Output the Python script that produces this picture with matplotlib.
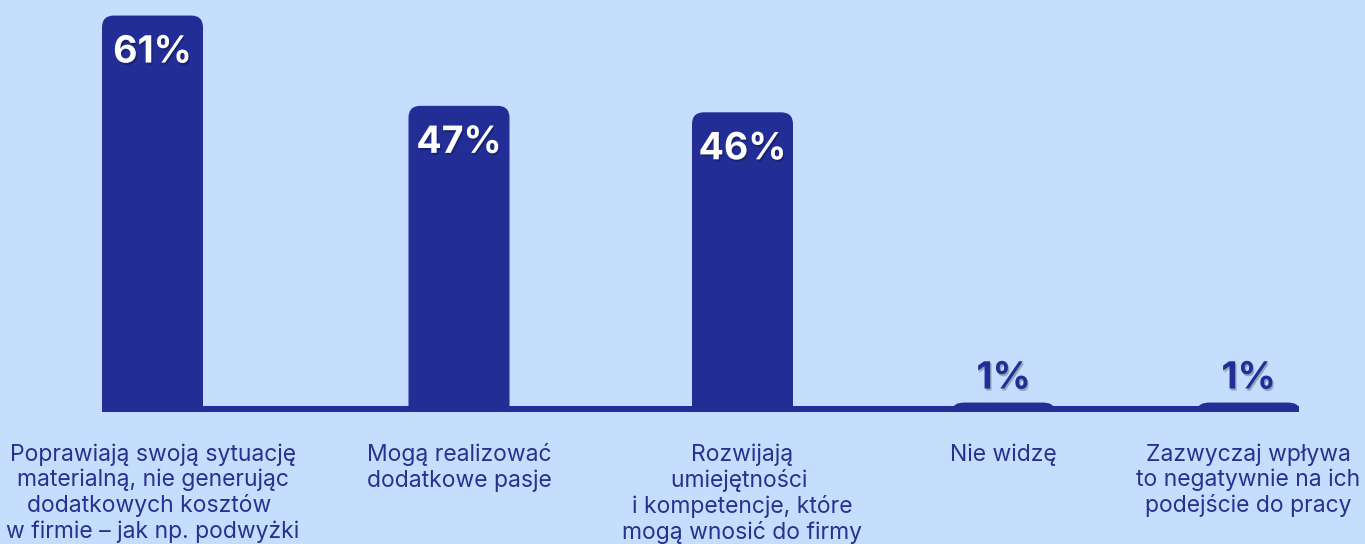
import matplotlib
matplotlib.use("Agg")
import matplotlib.pyplot as plt
from matplotlib.path import Path
from matplotlib.patches import PathPatch
import matplotlib.patheffects as pe

categories = [
    "Poprawiają swoją sytuację\nmaterialną, nie generując\ndodatkowych kosztów \nw firmie – jak np. podwyżki",
    "Mogą realizować\ndodatkowe pasje",
    "Rozwijają\numiejętności \ni kompetencje, które\nmogą wnosić do firmy",
    "Nie widzę",
    "Zazwyczaj wpływa\nto negatywnie na ich\npodejście do pracy",
]
values = [61, 47, 46, 1, 1]
value_labels = ["61%", "47%", "46%", "1%", "1%"]

# layout (pixel-based x positions)
positions = [152.5, 459, 742.5, 1003.5, 1248.5]
bar_width = 101

BG = "#C6DEFD"
BAR = "#222E96"
TXT = "#27318F"
PX_PER_UNIT = 6.45

plt.rcParams['font.family'] = ['Inter', 'DejaVu Sans']

fig = plt.figure(figsize=(13.65, 5.44), dpi=100)
fig.patch.set_facecolor(BG)
ax = fig.add_axes([0, 135 / 544, 1, 409 / 544])
ax.set_facecolor(BG)
ax.set_xlim(0, 1365)
ax.set_ylim(0, 409 / PX_PER_UNIT)
ax.axis('off')


def rounded_bar(x, w, h, r_px=12):
    rx = r_px
    ry = min(r_px / PX_PER_UNIT, h)
    l, rgt = x - w / 2, x + w / 2
    verts = [(l, 0), (l, h - ry), (l, h), (l + rx, h), (rgt - rx, h),
             (rgt, h), (rgt, h - ry), (rgt, 0), (l, 0)]
    codes = [Path.MOVETO, Path.LINETO, Path.CURVE3, Path.CURVE3, Path.LINETO,
             Path.CURVE3, Path.CURVE3, Path.LINETO, Path.CLOSEPOLY]
    return PathPatch(Path(verts, codes), facecolor=BAR, edgecolor='none',
                     clip_on=False, zorder=3)


shadow = [pe.withSimplePatchShadow(offset=(1, -1.5), shadow_rgbFace='black', alpha=0.25)]

for x, v, lab, cat in zip(positions, values, value_labels, categories):
    ax.add_patch(rounded_bar(x, bar_width, v))
    if v >= 10:
        ax.annotate(lab, (x, v), xytext=(0, -19), textcoords='offset pixels',
                    ha='center', va='top', color='white', fontsize=27,
                    fontweight='bold', zorder=5, path_effects=shadow)
    else:
        ax.annotate(lab, (x, v), xytext=(0, 6), textcoords='offset pixels',
                    ha='center', va='bottom', color=BAR, fontsize=27,
                    fontweight='bold', zorder=5, path_effects=shadow)
    ax.annotate(cat, (x, 0), xytext=(0, -34), textcoords='offset pixels',
                ha='center', va='top', ma='center', color=TXT, fontsize=16.5,
                linespacing=1.18, zorder=5)

ax.hlines(0, positions[0] - bar_width / 2, positions[-1] + bar_width / 2,
          colors=BAR, linewidth=4.3, zorder=4, clip_on=False)

fig.savefig("out.png", dpi=100, facecolor=BG)
